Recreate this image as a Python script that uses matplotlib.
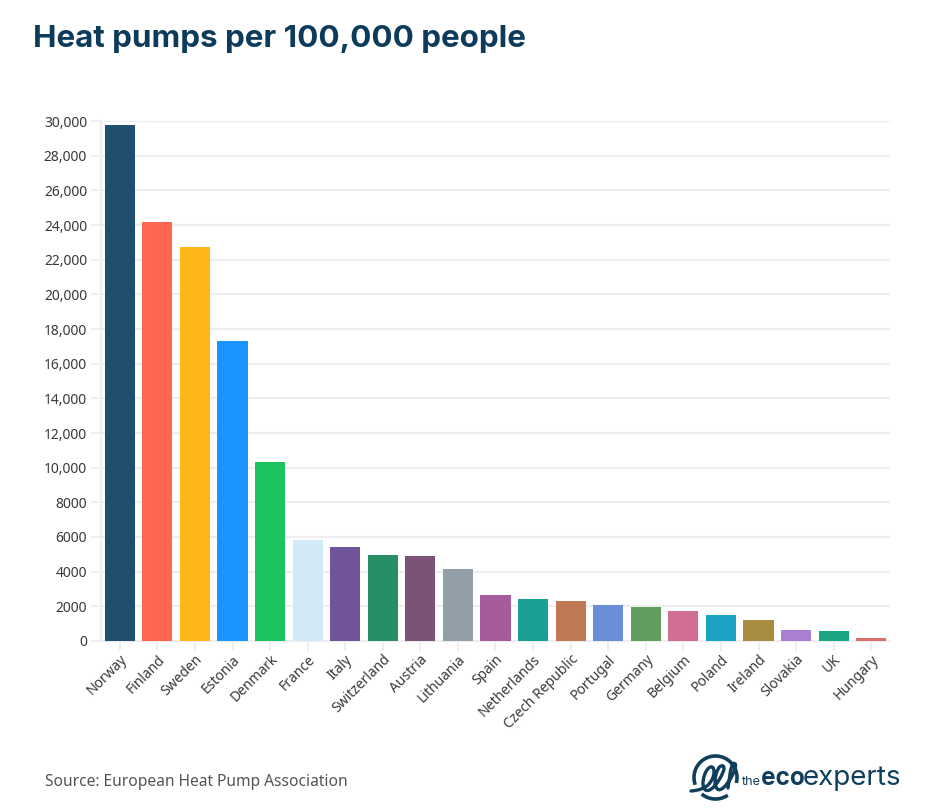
import numpy as np
import matplotlib
matplotlib.use('Agg')
import matplotlib.pyplot as plt
from matplotlib.patches import PathPatch
from matplotlib.path import Path

countries = ['Norway', 'Finland', 'Sweden', 'Estonia', 'Denmark', 'France', 'Italy',
             'Switzerland', 'Austria', 'Lithuania', 'Spain', 'Netherlands', 'Czech Republic',
             'Portugal', 'Germany', 'Belgium', 'Poland', 'Ireland', 'Slovakia', 'UK', 'Hungary']
values = [29760, 24180, 22750, 17280, 10300, 5800, 5450, 4950, 4920, 4130, 2650, 2400,
          2300, 2080, 1980, 1720, 1500, 1220, 610, 570, 170]
colours = ['#1f4e6e', '#ff6650', '#ffb619', '#1a94ff', '#1cc45f', '#d2eaf7', '#70559b',
           '#288e66', '#7d5277', '#929ea8', '#a45c9d', '#1ba098', '#bf7a55', '#6a8fd8',
           '#5f9e5d', '#d06f93', '#1ba3c6', '#a88c3f', '#a880cf', '#1ba584', '#d9706c']
yticks = np.arange(0, 30001, 2000)
ylabels = ['0', '2000', '4000', '6000', '8000', '10,000', '12,000', '14,000', '16,000',
           '18,000', '20,000', '22,000', '24,000', '26,000', '28,000', '30,000']

W, H = 931, 810
plt.rcParams['font.family'] = ['Noto Sans', 'DejaVu Sans']
fig = plt.figure(figsize=(W / 100, H / 100), dpi=100)
ax = fig.add_axes([101 / W, 1 - 641 / H, (890 - 101) / W, 520 / H])

grid = '#eeeef1'
ax.bar(range(len(values)), values, width=0.8, color=colours, zorder=3)
ax.set_xlim(-0.5, 20.5)
ax.set_ylim(0, 30000)
ax.set_yticks(yticks)
ax.set_yticklabels(ylabels, fontsize=10, color='#3a3a3a')
ax.set_xticks(range(len(values)))
ax.set_xticklabels(countries, fontsize=10, color='#3a3a3a', rotation=45, ha='right',
                   rotation_mode='anchor')
ax.grid(axis='y', color=grid, lw=1.6, zorder=0)
ax.tick_params(axis='y', length=7, width=1.4, color=grid, pad=3)
ax.tick_params(axis='x', length=7, width=1.4, color=grid, pad=1)
for s in ['top', 'right']:
    ax.spines[s].set_visible(False)
for s in ['left', 'bottom']:
    ax.spines[s].set_color(grid)
    ax.spines[s].set_linewidth(1.6)

fig.text(33 / W, 1 - 47 / H, 'Heat pumps per 100,000 people', fontsize=22.6,
         family='Inter', weight='bold', color='#0d3b5c')
fig.text(45 / W, 1 - 786 / H, 'Source: European Heat Pump Association', fontsize=11.2,
         color='#555555')

# logo
navy = '#0f3f5c'
over = fig.add_axes([0, 0, 1, 1])
over.set_xlim(0, W)
over.set_ylim(H, 0)
over.axis('off')
over.patch.set_alpha(0)
for t1, t2 in [(-10, 195), (235, 300)]:
    t = np.radians(np.linspace(t1, t2, 60))
    over.plot(715.5 + 21.5 * np.cos(t), 777.5 - 21.5 * np.sin(t), color=navy, lw=2.6)
swirl = [(691, 791), (704, 790), (714, 778), (714, 766), (707, 768), (702, 782), (705, 792),
         (714, 788), (724, 772), (724, 765), (718, 767), (714, 782), (718, 792), (728, 784),
         (736, 768), (735, 762), (731, 766), (729, 782), (727, 794)]
verts = [swirl[0]]
codes = [Path.MOVETO]
for a, b in zip(swirl[1:-1], swirl[2:]):
    verts += [a, ((a[0] + b[0]) / 2, (a[1] + b[1]) / 2)]
    codes += [Path.CURVE3, Path.CURVE3]
over.add_patch(PathPatch(Path(verts, codes), fill=False, ec=navy, lw=2.4, capstyle='round'))
over.text(742, 785, 'the', fontsize=9, color=navy, family='Inter')
over.text(761, 785, 'eco', fontsize=17.5, color=navy, family='Inter', weight='bold')
over.text(803, 785, 'experts', fontsize=20, color=navy, family='Inter')

fig.savefig('out.png', dpi=100)
